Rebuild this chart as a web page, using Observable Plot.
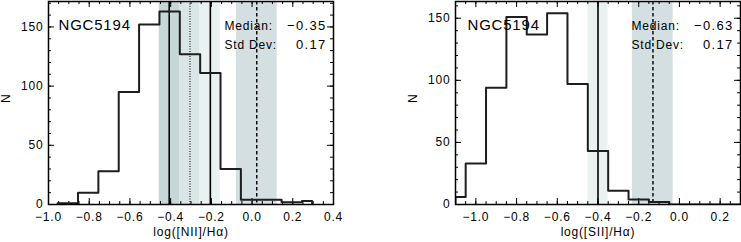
<!DOCTYPE html>
<html><head><meta charset="utf-8">
<script src="https://cdn.jsdelivr.net/npm/d3@7"></script>
<script src="https://cdn.jsdelivr.net/npm/@observablehq/plot@0.6"></script>
<style>
body{margin:0;background:#fff;}
#row{display:flex;width:741px;height:242px;}
#row svg text{letter-spacing:0.8px;}
#row svg g.statnum text{letter-spacing:1.3px;}
</style></head><body><div id="row"></div>
<script>
// ---------- [NII]/Halpha panel ----------
const niiEdges  = [-0.955,-0.855,-0.755,-0.655,-0.555,-0.455,-0.355,-0.255,-0.155,-0.055,0.045,0.145,0.245,0.295];
const niiCounts = [1,10,28,95,152,163,127,111,30,4,4,2,3];
const niiBandLo = [-0.456,-0.356,-0.258,-0.077];
const niiBandHi = [-0.356,-0.258,-0.156,0.123];
const niiBandTone = ["dark","mid","light","blue"];
const niiLineX = [-0.407,-0.205,-0.305,0.023];
const niiLineStyle = ["solid","solid","dotted","dashed"];
const niiXTicks = [-1.0,-0.8,-0.6,-0.4,-0.2,0.0,0.2,0.4];
const niiYTicks = [0,50,100,150];
const niiMedian = -0.35, niiStd = 0.17;

// ---------- [SII]/Halpha panel ----------
const siiEdges  = [-1.1,-1.05,-0.95,-0.85,-0.75,-0.65,-0.55,-0.45,-0.35,-0.25,-0.15,-0.05,0.3];
const siiCounts = [6,33,94,151,137,154,97,43,11,4,2,0];
const siiBandLo = [-0.449,-0.231];
const siiBandHi = [-0.351,-0.031];
const siiBandTone = ["light","blue"];
const siiLineX = [-0.40,-0.13];
const siiLineStyle = ["solid","dashed"];
const siiXTicks = [-1.0,-0.8,-0.6,-0.4,-0.2,0.0,0.2];
const siiYTicks = [0,50,100,150];
const siiMedian = -0.63, siiStd = 0.17;

const galaxy = "NGC5194";
const statNames = ["Median:", "Std Dev:"];

const toneColor = {dark:"#c7d7d8", mid:"#dae5e6", light:"#eaf1f1", blue:"#d3dfe0"};
const lineDash = {solid:null, dotted:"1,1.5", dashed:"3.5,2.5"};
const lineWidth = {solid:1.6, dotted:1, dashed:1.4};

function panel(o){
  const H = 242, mt = 1, mb = 38;
  const ph = H - mt - mb, pw = o.width - o.ml - o.mr;
  const pts = [{x:o.edges[0], y:0}];
  o.counts.forEach((c,i)=>{ pts.push({x:o.edges[i], y:c}); pts.push({x:o.edges[i+1], y:c}); });
  pts.push({x:o.edges[o.edges.length-1], y:0});
  const bands = o.bandLo.map((lo,i)=>({lo, hi:o.bandHi[i], tone:o.bandTone[i]}));
  const lines = o.lineX.map((x,i)=>({x, style:o.lineStyle[i]}));
  const xMinor = d3.range(Math.ceil(o.xDomain[0]*20-1e-9), Math.floor(o.xDomain[1]*20+1e-9)+1).map(k=>k/20);
  const yMinor = d3.range(0, Math.floor(o.yDomain[1]/10)+1).map(k=>k*10);
  const fmt1 = d3.format(".1f"), fmt2 = d3.format(".2f");
  const marks = [
    Plot.rect(bands, {x1:"lo", x2:"hi", y1:()=>o.yDomain[0], y2:()=>o.yDomain[1], fill:d=>toneColor[d.tone]}),
  ];
  for (const s of ["solid","dotted","dashed"]) {
    marks.push(Plot.ruleX(lines.filter(d=>d.style===s), {x:"x", stroke:"#000", strokeWidth:lineWidth[s], strokeDasharray:lineDash[s]}));
  }
  marks.push(
    Plot.ruleX(xMinor, {x:d=>d, insetTop:ph-3, stroke:"#000", strokeWidth:1}),
    Plot.ruleX(o.xTicks, {x:d=>d, insetTop:ph-6, stroke:"#000", strokeWidth:1}),
    Plot.ruleX(xMinor, {x:d=>d, insetBottom:ph-3, stroke:"#000", strokeWidth:1}),
    Plot.ruleX(o.xTicks, {x:d=>d, insetBottom:ph-6, stroke:"#000", strokeWidth:1}),
    Plot.ruleY(yMinor, {y:d=>d, insetRight:pw-3, stroke:"#000", strokeWidth:1}),
    Plot.ruleY(o.yTicks, {y:d=>d, insetRight:pw-6, stroke:"#000", strokeWidth:1}),
    Plot.ruleY(yMinor, {y:d=>d, insetLeft:pw-3, stroke:"#000", strokeWidth:1}),
    Plot.ruleY(o.yTicks, {y:d=>d, insetLeft:pw-6, stroke:"#000", strokeWidth:1}),
    Plot.line(pts, {x:"x", y:"y", stroke:"#1e1e1e", strokeWidth:2, clip:true}),
    Plot.frame({stroke:"#000", strokeWidth:1.5}),
    Plot.axisX(o.xTicks, {tickSize:0, tickPadding:8, tickFormat:fmt1, label:null, fontSize:12}),
    Plot.axisY(o.yTicks, {tickSize:0, tickPadding:5, label:null, fontSize:12}),
    Plot.text([o.xLabel], {text:d=>d, frameAnchor:"bottom", dy:28, lineAnchor:"middle", fontSize:12}),
    Plot.text(["N"], {text:d=>d, frameAnchor:"left", dx:-42.5, rotate:-90, lineAnchor:"middle", fontSize:12}),
    Plot.text([galaxy], {text:d=>d, frameAnchor:"top-left", dx:o.nameDx, dy:24, lineAnchor:"middle", textAnchor:"start", fontSize:15}),
    Plot.text([statNames[0]], {text:d=>d, frameAnchor:"top-left", dx:176, dy:24.5, lineAnchor:"middle", textAnchor:"start", fontSize:12}),
    Plot.text([statNames[1]], {text:d=>d, frameAnchor:"top-left", dx:176, dy:43.5, lineAnchor:"middle", textAnchor:"start", fontSize:12}),
    Plot.text([o.median], {text:d=>fmt2(d), frameAnchor:"top-right", dx:-7, dy:24.5, lineAnchor:"middle", textAnchor:"end", fontSize:13, className:"statnum"}),
    Plot.text([o.std], {text:d=>fmt2(d), frameAnchor:"top-right", dx:-7, dy:43.5, lineAnchor:"middle", textAnchor:"end", fontSize:13, className:"statnum"})
  );
  return Plot.plot({
    width:o.width, height:H, marginTop:mt, marginBottom:mb, marginLeft:o.ml, marginRight:o.mr,
    style:{fontFamily:"'Liberation Sans', Arial, sans-serif", fontSize:"12px", color:"#000", background:"#fff"},
    x:{domain:o.xDomain}, y:{domain:o.yDomain},
    marks
  });
}

const row = document.getElementById("row");
row.append(panel({
  width:371, ml:48, mr:38, xDomain:[-1.0,0.4], yDomain:[0,171.5],
  edges:niiEdges, counts:niiCounts, bandLo:niiBandLo, bandHi:niiBandHi, bandTone:niiBandTone,
  lineX:niiLineX, lineStyle:niiLineStyle, xTicks:niiXTicks, yTicks:niiYTicks,
  xLabel:"log([NII]/Hα)", median:niiMedian, std:niiStd, nameDx:10
}));
row.append(panel({
  width:370, ml:84, mr:1, xDomain:[-1.1,0.3], yDomain:[0,163.5],
  edges:siiEdges, counts:siiCounts, bandLo:siiBandLo, bandHi:siiBandHi, bandTone:siiBandTone,
  lineX:siiLineX, lineStyle:siiLineStyle, xTicks:siiXTicks, yTicks:siiYTicks,
  xLabel:"log([SII]/Hα)", median:siiMedian, std:siiStd, nameDx:12
}));
</script></body></html>
